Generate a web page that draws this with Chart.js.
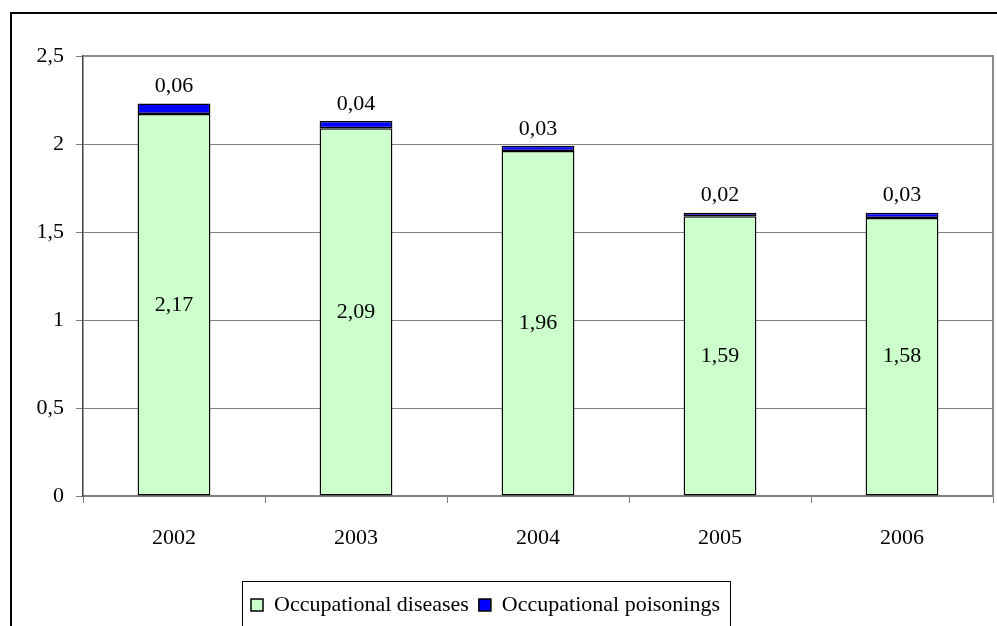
<!DOCTYPE html>
<html>
<head>
<meta charset="utf-8">
<script src="https://cdn.jsdelivr.net/npm/chart.js@4"></script>
<style>
  html, body { margin: 0; padding: 0; background: #fff; overflow: hidden; }
  #frame { position: absolute; left: 10px; top: 12px; width: 1100px; height: 700px; border: 2px solid #000; }
  #wrap { position: absolute; left: 0; top: 0; width: 997px; height: 626px; }
</style>
</head>
<body>
<div id="frame"></div>
<div id="wrap"><canvas id="myChart"></canvas></div>
<script>
// data
var years = ['2002', '2003', '2004', '2005', '2006'];
var diseases = [2.17, 2.09, 1.96, 1.59, 1.58];
var poisonings = [0.06, 0.04, 0.03, 0.02, 0.03];
var seriesNames = ['Occupational diseases', 'Occupational poisonings'];

var FONT = 'Liberation Serif, Times New Roman, serif';
var FSIZE = 22;

function comma(v, digits) {
    var s = digits === undefined ? String(v) : v.toFixed(digits);
    return s.replace('.', ',');
}

// value labels: middle of green part, above the blue part
var valueLabels = {
    id: 'valueLabels',
    afterDatasetsDraw: function(chart) {
        var ctx = chart.ctx;
        ctx.save();
        ctx.font = FSIZE + 'px ' + FONT;
        ctx.fillStyle = '#000';
        ctx.textAlign = 'center';
        ctx.textBaseline = 'middle';
        chart.data.datasets.forEach(function(ds, di) {
            var meta = chart.getDatasetMeta(di);
            meta.data.forEach(function(bar, i) {
                var txt = comma(ds.data[i], 2);
                if (di === 0) {
                    ctx.fillText(txt, bar.x, (bar.y + bar.base) / 2);
                } else {
                    ctx.fillText(txt, bar.x, bar.y - 17);
                }
            });
        });
        ctx.restore();
    }
};

// grey border round the plot area and a box round the legend
var boxes = {
    id: 'boxes',
    afterLayout: function(chart) {
        var lg = chart.legend;
        lg.left -= 11;
        lg.right -= 11;
    },
    beforeDatasetsDraw: function(chart) {
        var a = chart.chartArea;
        var ctx = chart.ctx;
        ctx.save();
        ctx.strokeStyle = '#8c8c8c';
        ctx.lineWidth = 2;
        ctx.beginPath();
        ctx.moveTo(a.left, a.top);
        ctx.lineTo(a.right, a.top);
        ctx.lineTo(a.right, a.bottom);
        ctx.stroke();
        ctx.restore();
    },
    afterDraw: function(chart) {
        var hb = chart.legend.legendHitBoxes;
        if (!hb || !hb.length) return;
        var l = Infinity, r = -Infinity, c = hb[0].top + hb[0].height / 2;
        hb.forEach(function(h) {
            l = Math.min(l, h.left);
            r = Math.max(r, h.left + h.width);
        });
        var ctx = chart.ctx;
        ctx.save();
        ctx.strokeStyle = '#000';
        ctx.lineWidth = 1;
        ctx.strokeRect(Math.round(l - 9) + 0.5, Math.round(c - 24) + 0.5, Math.round(r - l + 19), 50);
        ctx.restore();
    }
};

var canvas = document.getElementById('myChart').getContext('2d');
var myChart = new Chart(canvas, {
    type: 'bar',
    data: {
        labels: years,
        datasets: [
            {
                label: seriesNames[0],
                data: diseases,
                backgroundColor: '#CCFFCC',
                borderColor: '#000',
                borderWidth: 1.5,
                borderSkipped: false
            },
            {
                label: seriesNames[1],
                data: poisonings,
                backgroundColor: '#0000FF',
                borderColor: '#000',
                borderWidth: 1.5,
                borderSkipped: false
            }
        ]
    },
    options: {
        responsive: true,
        maintainAspectRatio: false,
        animation: false,
        categoryPercentage: 1,
        barPercentage: 0.4,
        layout: { padding: { left: 0, right: 4, top: 56, bottom: 0 } },
        plugins: {
            tooltip: { enabled: false },
            legend: {
                position: 'bottom',
                labels: {
                    font: { family: FONT, size: FSIZE },
                    color: '#000',
                    boxWidth: 12,
                    boxHeight: 12,
                    padding: 10
                }
            }
        },
        scales: {
            x: {
                stacked: true,
                afterFit: function(scale) { scale.height = 88; },
                grid: {
                    offset: true,
                    drawOnChartArea: false,
                    tickLength: 7,
                    tickColor: '#808080'
                },
                border: { color: '#808080', width: 1.5 },
                ticks: {
                    font: { family: FONT, size: FSIZE },
                    color: '#000',
                    padding: 22,
                    maxRotation: 0
                }
            },
            y: {
                stacked: true,
                min: 0,
                max: 2.5,
                afterFit: function(scale) { scale.width = 83; },
                grid: {
                    color: '#808080',
                    lineWidth: 1,
                    tickLength: 7
                },
                border: { color: '#404040', width: 1.5 },
                ticks: {
                    stepSize: 0.5,
                    font: { family: FONT, size: FSIZE },
                    color: '#000',
                    padding: 12,
                    callback: function(value) {
                        return comma(value);
                    }
                }
            }
        }
    },
    plugins: [valueLabels, boxes]
});
</script>
</body>
</html>
